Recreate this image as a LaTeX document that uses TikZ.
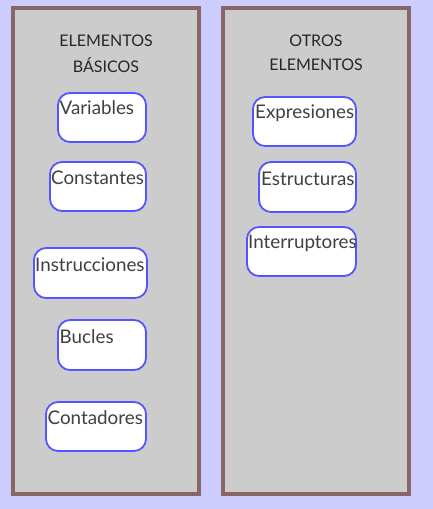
\documentclass[tikz,border=0pt]{standalone}
\usepackage{fontspec}
\setmainfont{Lato}
\definecolor{bgc}{HTML}{CCCCFF}
\definecolor{panelfill}{HTML}{CCCCCC}
\definecolor{panelline}{HTML}{886666}
\definecolor{boxline}{HTML}{5555FF}
\definecolor{txt}{HTML}{404040}
\tikzset{
  panel/.style={draw=panelline, line width=4pt, fill=panelfill},
  itembox/.style={draw=boxline, line width=1.8pt, fill=white, rounded corners=12pt},
  itemtext/.style={anchor=west, inner sep=0pt, text=txt, font=\fontsize{18.8}{22}\selectfont},
  titletext/.style={inner sep=0pt, text=black!85, font=\fontsize{16}{19}\selectfont, align=center}
}
\begin{document}
\begin{tikzpicture}[x=1pt,y=-1pt]
\useasboundingbox (0,0) rectangle (433,509);
\fill[bgc] (0,0) rectangle (433,509);
% panels
\draw[panel] (13,8) rectangle (199,494);
\draw[panel] (223,8) rectangle (409,494);
% titles
\node[titletext] (t1a) at (106,41) {ELEMENTOS};
\node[titletext] (t1b) at (106,65) {BÁSICOS};
\node[titletext] (t2a) at (316,41) {OTROS};
\node[titletext] (t2b) at (316,65) {ELEMENTOS};
% left boxes
\draw[itembox] (58,93) rectangle (146,142);
\node[itemtext] (var) at (59.5,108) {Variables};
\draw[itembox] (50,162) rectangle (146,211);
\node[itemtext] (con) at (51,178) {Constantes};
\draw[itembox] (34,248) rectangle (147,298);
\node[itemtext] (ins) at (35,265) {Instrucciones};
\draw[itembox] (58,320) rectangle (146,370);
\node[itemtext] (buc) at (59.5,337) {Bucles};
\draw[itembox] (46,402) rectangle (146,451);
\node[itemtext] (cont) at (47.5,418) {Contadores};
% right boxes
\draw[itembox] (253,97) rectangle (356,146);
\node[itemtext] (exp) at (255,113) {Expresiones};
\draw[itembox] (259,162) rectangle (356,212);
\node[itemtext] (est) at (261,179) {Estructuras};
\draw[itembox] (247,227) rectangle (356,276);
\node[itemtext] (int) at (248,243) {Interruptores};
\end{tikzpicture}
\end{document}
